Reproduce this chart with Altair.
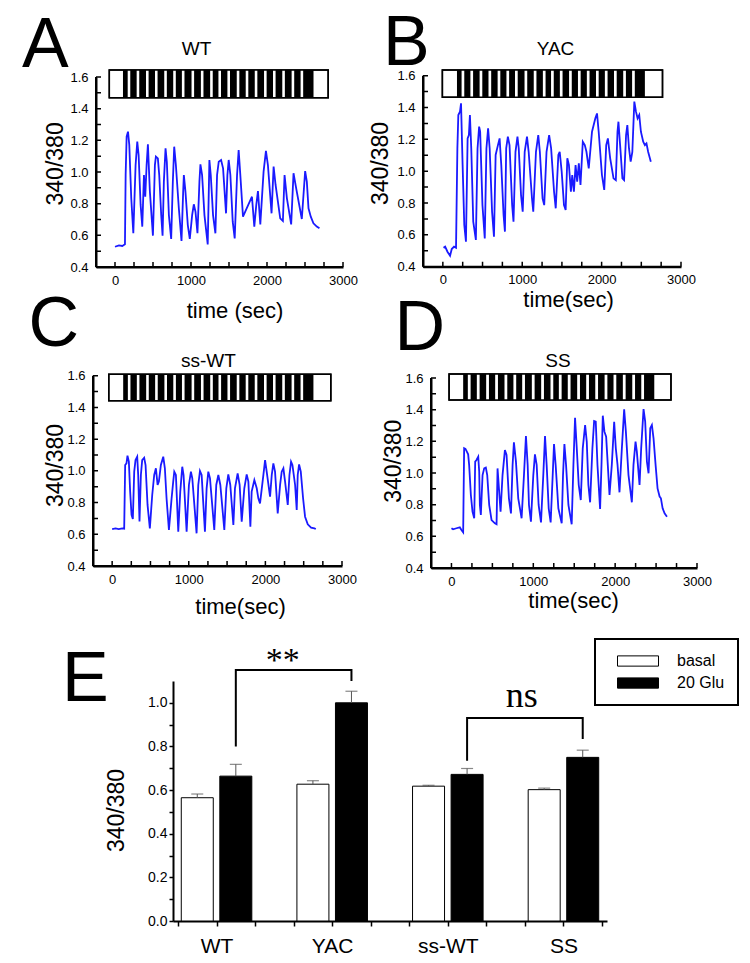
import altair as alt
import pandas as pd

FONT = "Liberation Sans"
SERIF = "Liberation Serif"
W, H = 734, 947
BLUE = "#1a1aff"

# ---------------- calcium traces (time s, 340/380 ratio) ----------------
A_t = [0, 52, 96, 131, 140, 153, 171, 188, 214, 241, 271, 293, 311, 337, 359, 381, 398, 416, 433, 459,
       499, 525, 538, 564, 582, 608, 626, 643, 665, 682, 709, 739, 761, 779, 801, 840, 875, 897, 906, 927,
       958, 984, 1015, 1037, 1059, 1085, 1111, 1124, 1146, 1177, 1220, 1234, 1242, 1260, 1290, 1321, 1343,
       1365, 1396, 1422, 1461, 1479, 1496, 1518, 1549, 1575, 1606, 1627, 1649, 1684, 1802, 1833, 1859, 1881,
       1912, 1955, 1986, 2012, 2060, 2087, 2113, 2174, 2209, 2231, 2262, 2318, 2349, 2384, 2458, 2502, 2524,
       2546, 2576, 2611, 2655, 2690]
A_v = [0.528, 0.537, 0.533, 0.543, 0.981, 1.223, 1.255, 1.171, 0.834, 0.613, 1.044, 1.192, 1.107, 0.792,
       0.655, 0.981, 0.844, 1.044, 1.175, 0.876, 0.598, 1.044, 1.097, 1.086, 0.981, 0.728, 0.598, 0.939,
       1.149, 1.065, 0.728, 0.577, 0.939, 1.160, 1.044, 0.771, 0.564, 0.876, 0.981, 0.876, 0.665, 0.577,
       0.728, 0.796, 0.749, 0.613, 0.939, 1.048, 0.981, 0.728, 0.543, 0.876, 1.076, 0.981, 0.728, 0.613,
       0.981, 1.065, 1.076, 1.023, 0.739, 0.981, 1.076, 0.981, 0.686, 0.581, 0.981, 1.139, 0.981, 0.718,
       0.844, 0.655, 0.792, 0.880, 0.669, 1.002, 1.133, 1.044, 0.739, 1.034, 0.918, 0.707, 0.691, 0.981,
       0.834, 0.669, 0.992, 0.897, 0.703, 1.006, 0.939, 0.771, 0.718, 0.676, 0.655, 0.644]

B_t = [8, 29, 58, 91, 112, 141, 166, 183, 195, 216, 229, 249, 270, 291, 312, 328, 341, 358, 383, 416,
       437, 457, 470, 499, 528, 549, 570, 590, 620, 644, 665, 694, 715, 736, 765, 782, 798, 819, 840, 873,
       890, 915, 940, 956, 985, 1006, 1031, 1060, 1081, 1123, 1139, 1173, 1202, 1222, 1256, 1277, 1306,
       1339, 1364, 1401, 1422, 1455, 1472, 1497, 1526, 1547, 1568, 1588, 1613, 1630, 1651, 1672, 1692,
       1713, 1734, 1763, 1788, 1809, 1838, 1879, 1921, 1942, 1963, 2004, 2033, 2058, 2079, 2108, 2150,
       2179, 2200, 2212, 2233, 2262, 2283, 2308, 2324, 2345, 2366, 2387, 2412, 2433, 2453, 2474, 2495,
       2524, 2545, 2565, 2586, 2620]
B_v = [0.519, 0.526, 0.494, 0.469, 0.511, 0.526, 0.519, 1.143, 1.353, 1.374, 1.426, 1.039, 0.662, 0.557,
       1.206, 1.227, 1.353, 1.143, 0.683, 0.568, 1.143, 1.280, 1.248, 0.787, 0.578, 1.143, 1.269, 1.143,
       0.746, 0.588, 1.102, 1.164, 1.206, 1.039, 0.725, 0.620, 1.143, 1.217, 1.164, 0.787, 0.683, 1.122,
       1.217, 1.143, 0.850, 0.746, 1.122, 1.217, 1.122, 0.829, 0.746, 1.122, 1.227, 1.122, 0.829, 0.787,
       1.122, 1.227, 1.143, 0.871, 0.767, 1.102, 1.122, 0.997, 0.787, 0.756, 1.081, 1.039, 0.871, 0.976,
       0.871, 1.039, 0.934, 1.049, 0.913, 1.185, 1.164, 1.122, 1.018, 1.248, 1.332, 1.363, 1.248, 0.976,
       0.882, 1.164, 1.206, 1.081, 0.955, 0.944, 1.248, 1.311, 1.164, 0.955, 0.944, 1.227, 1.290, 1.143,
       1.060, 1.122, 1.437, 1.374, 1.332, 1.353, 1.248, 1.185, 1.164, 1.175, 1.122, 1.060]

C_t = [0, 44, 87, 131, 157, 170, 187, 200, 218, 235, 253, 270, 288, 305, 327, 340, 357, 375, 392, 418,
       436, 462, 492, 523, 549, 571, 593, 610, 636, 667, 688, 710, 741, 776, 797, 811, 832, 863, 889, 915,
       932, 972, 1002, 1028, 1046, 1102, 1124, 1146, 1168, 1211, 1233, 1255, 1277, 1333, 1359, 1386, 1412,
       1464, 1490, 1516, 1542, 1582, 1603, 1638, 1664, 1691, 1725, 1756, 1778, 1804, 1821, 1856, 1887,
       1908, 1930, 1974, 1996, 2017, 2061, 2083, 2104, 2126, 2161, 2192, 2213, 2235, 2257, 2292, 2314,
       2335, 2353, 2388, 2409, 2422, 2440, 2462, 2492, 2518, 2553, 2597, 2640, 2658]
C_v = [0.633, 0.637, 0.633, 0.637, 0.635, 1.037, 1.047, 1.096, 1.058, 0.869, 0.722, 0.696, 0.995, 1.068,
       1.089, 0.974, 0.680, 0.974, 1.068, 1.083, 1.037, 0.785, 0.637, 0.848, 0.974, 1.016, 0.911, 0.932,
       1.037, 1.089, 1.016, 0.827, 0.627, 0.827, 0.932, 0.995, 0.974, 0.616, 0.869, 1.026, 0.974, 0.616,
       0.911, 0.995, 0.953, 0.606, 0.911, 0.999, 0.974, 0.616, 0.890, 0.995, 0.953, 0.627, 0.911, 0.974,
       0.911, 0.627, 0.890, 0.978, 0.911, 0.659, 0.890, 0.984, 0.911, 0.680, 0.890, 0.978, 0.932, 0.648,
       0.869, 0.942, 0.890, 0.827, 0.795, 0.974, 1.068, 0.995, 0.837, 0.974, 1.047, 0.995, 0.732, 0.911,
       0.995, 1.016, 0.932, 0.785, 0.974, 1.058, 1.037, 0.911, 0.753, 0.974, 1.041, 0.995, 0.827, 0.711,
       0.663, 0.642, 0.637, 0.633]

D_t = [0, 20, 61, 102, 122, 143, 155, 171, 188, 204, 216, 237, 257, 278, 290, 306, 327, 339, 347, 359,
       380, 400, 420, 437, 461, 490, 531, 551, 563, 580, 600, 624, 653, 673, 702, 727, 747, 763, 788, 816,
       857, 886, 910, 931, 947, 971, 1000, 1020, 1041, 1065, 1094, 1122, 1143, 1163, 1188, 1212, 1237,
       1253, 1273, 1306, 1347, 1363, 1380, 1400, 1429, 1469, 1490, 1510, 1531, 1555, 1580, 1604, 1633,
       1653, 1673, 1694, 1722, 1743, 1763, 1784, 1816, 1833, 1849, 1869, 1890, 1910, 1931, 1959, 1988,
       2008, 2029, 2053, 2082, 2110, 2131, 2163, 2204, 2224, 2249, 2265, 2298, 2318, 2347, 2367, 2388,
       2408, 2429, 2449, 2469, 2494, 2518, 2543, 2559, 2580, 2604, 2633]
D_v = [0.651, 0.644, 0.651, 0.657, 0.640, 0.625, 1.156, 1.152, 1.135, 1.118, 1.051, 0.861, 0.756, 0.714,
       1.072, 1.082, 1.103, 1.008, 0.798, 0.735, 0.987, 1.029, 1.034, 0.987, 0.798, 0.703, 0.682, 0.676,
       1.029, 0.903, 0.756, 0.987, 1.145, 1.114, 0.840, 0.745, 1.051, 1.194, 1.072, 0.840, 0.714, 0.987,
       1.234, 1.051, 0.798, 0.693, 0.987, 1.118, 1.051, 0.798, 0.688, 0.987, 1.234, 1.051, 0.777, 0.688,
       0.987, 1.183, 1.051, 0.777, 0.682, 0.987, 1.183, 1.051, 0.798, 0.676, 1.051, 1.349, 1.156, 0.924,
       0.829, 1.156, 1.303, 1.198, 0.924, 0.815, 1.156, 1.328, 1.324, 1.051, 0.773, 1.051, 1.362, 1.261,
       1.229, 1.051, 0.861, 1.051, 1.324, 1.156, 1.051, 0.878, 1.156, 1.402, 1.261, 0.987, 0.815, 1.051,
       1.198, 1.135, 0.924, 1.156, 1.404, 1.324, 1.072, 0.998, 1.282, 1.303, 1.219, 1.051, 0.903, 0.851,
       0.840, 0.777, 0.745, 0.724]

# ---------------- glutamate pulse bar (time s; ratio extent of the box) ----------------
A_BOX = [-75, 2805, 1.469, 1.644]
B_BOX = [-6, 2767, 1.464, 1.636]
C_BOX = [-44, 2854, 1.442, 1.609]
D_BOX = [-29, 2682, 1.461, 1.625]
A_PULSE = [105, 2612]
B_PULSE = [178, 2545]
C_PULSE = [144, 2627]
D_PULSE = [143, 2478]
A_GAPS = [184, 302, 425, 543, 665, 783, 897, 1024, 1147, 1269, 1378, 1496, 1619, 1737, 1856, 1978, 2096, 2218, 2341, 2459]
B_GAPS = [253, 364, 480, 592, 707, 818, 926, 1046, 1162, 1277, 1380, 1491, 1607, 1719, 1831, 1946, 2058, 2173, 2289, 2401]
C_GAPS = [222, 339, 461, 578, 699, 815, 928, 1054, 1176, 1297, 1405, 1522, 1643, 1760, 1878, 1999, 2116, 2237, 2359, 2476]
D_GAPS = [217, 327, 441, 551, 665, 774, 881, 999, 1113, 1227, 1329, 1438, 1553, 1663, 1774, 1888, 1997, 2111, 2226, 2336]
GAP_HALF = 17

# ---------------- axis ticks ----------------
X_DOMAIN = [-250, 3000]
Y_DOMAIN = [0.4, 1.6]
X_TICKS = [0, 250, 500, 750, 1000, 1250, 1500, 1750, 2000, 2250, 2500, 2750, 3000]
Y_TICKS = [0.4, 0.5, 0.6, 0.7, 0.8, 0.9, 1.0, 1.1, 1.2, 1.3, 1.4, 1.5, 1.6]
TICK_PX = 5

# ---------------- panel E data ----------------
GROUPS = ["WT", "YAC", "ss-WT", "SS"]
CONDS = ["basal", "20 Glu"]
BASAL_MEAN = [0.565, 0.627, 0.618, 0.602]
BASAL_SEM = [0.017, 0.016, 0.004, 0.007]
GLU_MEAN = [0.664, 1.000, 0.672, 0.750]
GLU_SEM = [0.054, 0.053, 0.027, 0.033]
E_Y_TICKS = [0.0, 0.1, 0.2, 0.3, 0.4, 0.5, 0.6, 0.7, 0.8, 0.9, 1.0]
BRACKET_STAR_Y = [0.80, 1.15, 1.15, 1.10]
BRACKET_NS_Y = [0.734, 0.93, 0.93, 0.834]

EVEN_TENTHS = "round(datum.value * 10) % 2 == 0 ? format(datum.value, '.1f') : ''"


def trace_panel(key, t, v, box, pulse, gaps, xr, yr, letter, letter_xy, name, name_xy,
                xtitle, xtitle_pos, ytitle_pos):
    xs = alt.Scale(domain=X_DOMAIN, range=xr, nice=False, zero=False)
    ys = alt.Scale(domain=Y_DOMAIN, range=yr, nice=False, zero=False)

    x_axis = alt.Axis(orient="bottom", offset=yr[0] - H, values=X_TICKS,
                      labelExpr="datum.value % 1000 == 0 ? format(datum.value, 'd') : ''",
                      ticks=True, tickSize=4, tickWidth=1.5, tickColor="black", tickOpacity=0,
                      grid=False, labelFlush=False, labelOverlap=False,
                      labelPadding=3, labelFont=FONT, labelFontSize=13, labelColor="black",
                      domainColor="black", domainWidth=2,
                      title=xtitle, titleFont=FONT, titleFontSize=22, titleFontWeight="normal",
                      titleColor="black", titleX=xtitle_pos[0], titleY=xtitle_pos[1],
                      titleAlign="center", titleBaseline="alphabetic")
    y_axis = alt.Axis(orient="left", offset=-xr[0], values=Y_TICKS, labelExpr=EVEN_TENTHS,
                      ticks=True, tickSize=4, tickWidth=1.5, tickColor="black", tickOpacity=0,
                      grid=False, labelFlush=False, labelOverlap=False,
                      labelPadding=4, labelFont=FONT, labelFontSize=13, labelColor="black",
                      domainColor="black", domainWidth=2,
                      title="340/380", titleFont=FONT, titleFontSize=23, titleFontWeight="normal",
                      titleColor="black", titleAngle=270, titleX=ytitle_pos[0], titleY=ytitle_pos[1],
                      titleAlign="center", titleBaseline="alphabetic")

    # every layer of a panel carries the same axis spec, so the merged axis stays enabled
    def enc(chart, xf="x", yf="y", x2=None, y2=None):
        e = dict(x=alt.X(f"{xf}:Q", scale=xs, axis=x_axis),
                 y=alt.Y(f"{yf}:Q", scale=ys, axis=y_axis))
        if x2:
            e["x2"] = alt.X2(f"{x2}:Q")
        if y2:
            e["y2"] = alt.Y2(f"{y2}:Q")
        return chart.encode(**e)

    box_df = pd.DataFrame({"x": [box[0]], "x2": [box[1]], "y": [box[2]], "y2": [box[3]]})
    pulse_df = pd.DataFrame({"x": [pulse[0]], "x2": [pulse[1]], "y": [box[2]], "y2": [box[3]]})
    gap_df = pd.DataFrame({"x": [g - GAP_HALF for g in gaps], "x2": [g + GAP_HALF for g in gaps],
                           "y": [box[2]] * len(gaps), "y2": [box[3]] * len(gaps)})

    box_fill = enc(alt.Chart(box_df).mark_rect(fill="white", stroke="black", strokeWidth=1.5),
                   x2="x2", y2="y2")
    pulse_fill = enc(alt.Chart(pulse_df).mark_rect(fill="black"), x2="x2", y2="y2")
    gap_fill = enc(alt.Chart(gap_df).mark_rect(fill="white"), x2="x2", y2="y2")
    box_line = enc(alt.Chart(box_df).mark_rect(fill="white", fillOpacity=0, stroke="black",
                                               strokeWidth=1.5), x2="x2", y2="y2")
    trace = enc(alt.Chart(pd.DataFrame({"t": t, "v": v})).mark_line(color=BLUE, strokeWidth=1.8),
                xf="t", yf="v")

    # axis lines drawn as zero-thickness stroked rectangles (same mark type as the pulse box)
    frame_df = pd.DataFrame({"panel": [key, key],
                             "x": [X_DOMAIN[0], X_DOMAIN[0]], "x2": [X_DOMAIN[1], X_DOMAIN[0]],
                             "y": [Y_DOMAIN[0], Y_DOMAIN[0]], "y2": [Y_DOMAIN[0], Y_DOMAIN[1]]})
    frame_rect = enc(alt.Chart(frame_df).mark_rect(fill="black", stroke="black", strokeWidth=2),
                     x2="x2", y2="y2")

    # inward ticks, also as stroked zero-width rectangles (length TICK_PX pixels)
    dv = TICK_PX * (Y_DOMAIN[1] - Y_DOMAIN[0]) / abs(yr[0] - yr[1])
    dt = TICK_PX * (X_DOMAIN[1] - X_DOMAIN[0]) / abs(xr[1] - xr[0])
    tk = []
    for xv in X_TICKS:
        tk.append({"x": xv, "x2": xv, "y": Y_DOMAIN[0], "y2": Y_DOMAIN[0] + dv})
    for yv in Y_TICKS:
        tk.append({"x": X_DOMAIN[0], "x2": X_DOMAIN[0] + dt, "y": yv, "y2": yv})
    tick_df = pd.DataFrame(tk)
    tick_df["panel"] = key
    tick_rect = enc(alt.Chart(tick_df).mark_rect(fill="black", stroke="black", strokeWidth=1.5),
                    x2="x2", y2="y2")

    let_df = pd.DataFrame({"x": [letter_xy[0]], "y": [letter_xy[1]], "txt": [letter]})
    let_txt = enc(alt.Chart(let_df).mark_text(font=FONT, fontSize=70, align="left",
                                              baseline="alphabetic", color="black")).encode(text="txt:N")
    name_df = pd.DataFrame({"x": [name_xy[0]], "y": [name_xy[1]], "txt": [name]})
    name_txt = enc(alt.Chart(name_df).mark_text(font=FONT, fontSize=19, align="center",
                                                baseline="alphabetic", color="black")).encode(text="txt:N")

    return alt.layer(box_fill, pulse_fill, gap_fill, box_line, frame_rect, tick_rect, trace,
                     let_txt, name_txt)


pA = trace_panel("A", A_t, A_v, A_BOX, A_PULSE, A_GAPS, [88, 335], [259, 69],
                 "A", (-1224, 1.663), "WT", (1072, 1.739), "time (sec)", (226.5, 50), (-34, 155.4))
pB = trace_panel("B", B_t, B_v, B_BOX, B_PULSE, B_GAPS, [415, 673], [258.7, 67.7],
                 "B", (-754, 1.667), "YAC", (1419, 1.730), "time(sec)", (560, 40), (-36, 155))
pC = trace_panel("C", C_t, C_v, C_BOX, C_PULSE, C_GAPS, [85, 334], [558, 367.7],
                 "C", (-1092, 1.787), "ss-WT", (1257, 1.655), "time(sec)", (232, 47), (-31, 457))
pD = trace_panel("D", D_t, D_v, D_BOX, D_PULSE, D_GAPS, [423, 689], [560, 370],
                 "D", (-696, 1.777), "SS", (1302, 1.669), "time(sec)", (565, 39), (-31, 452.7))

# ---------------- panel E ----------------
E_XR = [165, 599]
E_YR = [913, 673]
n_slots = 3 * len(GROUPS) - 1
exs = alt.Scale(domain=[0, n_slots], range=E_XR, nice=False, zero=False)
eys = alt.Scale(domain=[0, 1.1], range=E_YR, nice=False, zero=False)

rows = []
for i, g in enumerate(GROUPS):
    rows.append({"slot": 3 * i + 0.5, "cond": CONDS[0], "mean": BASAL_MEAN[i],
                 "top": BASAL_MEAN[i] + BASAL_SEM[i]})
    rows.append({"slot": 3 * i + 1.5, "cond": CONDS[1], "mean": GLU_MEAN[i],
                 "top": GLU_MEAN[i] + GLU_SEM[i]})
bars_df = pd.DataFrame(rows)

label_expr = "".join(f"datum.value == {3 * i + 1} ? '{g}' : " for i, g in enumerate(GROUPS)) + "''"
ex_axis = alt.Axis(orient="bottom", offset=E_YR[0] - H, values=list(range(n_slots + 1)),
                   labelExpr=label_expr, ticks=True, tickSize=5, tickWidth=1.5, tickColor="black",
                   grid=False, labelFlush=False, labelOverlap=False, labelPadding=9,
                   labelFont=FONT, labelFontSize=21, labelColor="black",
                   domainColor="black", domainWidth=2, title=None)
ey_axis = alt.Axis(orient="left", offset=-E_XR[0], values=E_Y_TICKS, labelExpr=EVEN_TENTHS,
                   ticks=True, tickSize=4, tickWidth=1.5, tickColor="black",
                   grid=False, labelFlush=False, labelOverlap=False, labelPadding=2,
                   labelFont=FONT, labelFontSize=14, labelColor="black",
                   domainColor="black", domainWidth=2,
                   title="340/380", titleFont=FONT, titleFontSize=23, titleFontWeight="normal",
                   titleColor="black", titleAngle=270, titleX=-50, titleY=802,
                   titleAlign="center", titleBaseline="alphabetic")


def ex(field):
    return alt.X(f"{field}:Q", scale=exs, axis=ex_axis)


def ey(field):
    return alt.Y(f"{field}:Q", scale=eys, axis=ey_axis)


bars = alt.Chart(bars_df).mark_bar(size=32, orient="vertical", stroke="black", strokeWidth=1).encode(
    x=ex("slot"),
    y=ey("mean"),
    color=alt.Color("cond:N", scale=alt.Scale(domain=CONDS, range=["white", "black"]),
                    legend=alt.Legend(title=None, orient="none", legendX=587, legendY=631,
                                      symbolType="M-1,-0.25H1V0.25H-1Z", symbolSize=1681,
                                      symbolStrokeColor="black", symbolStrokeWidth=1,
                                      symbolOffset=9, labelOffset=18,
                                      labelFont=FONT, labelFontSize=16, labelColor="black",
                                      clipHeight=18, rowPadding=4, padding=13,
                                      strokeColor="black", fillColor="white")),
)
err = alt.Chart(bars_df).mark_rule(color="#555555", strokeWidth=1).encode(
    x=ex("slot"), y=ey("mean"), y2="top:Q",
)
caps = alt.Chart(bars_df).mark_tick(orient="horizontal", size=12, thickness=1.2, color="#555555").encode(
    x=ex("slot"), y=ey("top"),
)

br_rows = []
for name, (a, b), ys_ in [("star", (0, 1), BRACKET_STAR_Y), ("ns", (2, 3), BRACKET_NS_Y)]:
    xa = 3 * a + 1.5
    xb = 3 * b + 1.5
    for k, (xx, yy) in enumerate(zip([xa, xa, xb, xb], ys_)):
        br_rows.append({"br": name, "k": k, "slot": xx, "val": yy})
brackets = alt.Chart(pd.DataFrame(br_rows)).mark_line(color="black", strokeWidth=2).encode(
    x=ex("slot"), y=ey("val"), detail="br:N", order="k:Q",
)

ann_df = pd.DataFrame({"slot": [2.72, 8.92], "val": [1.148, 0.98], "txt": ["**", "ns"],
                       "size": [34, 36]})
ann = alt.Chart(ann_df).mark_text(font=SERIF, align="center", baseline="alphabetic",
                                  color="black").encode(
    x=ex("slot"), y=ey("val"), text="txt:N",
    size=alt.Size("size:Q", scale=None, legend=None),
)
e_letter = alt.Chart(pd.DataFrame({"slot": [-3.01], "val": [1.008], "txt": ["E"]})).mark_text(
    font=FONT, fontSize=70, align="left", baseline="alphabetic", color="black").encode(
    x=ex("slot"), y=ey("val"), text="txt:N",
)

pE = alt.layer(bars, err, caps, brackets, ann, e_letter)

chart = alt.layer(pA, pB, pC, pD, pE).resolve_scale(
    x="independent", y="independent"
).properties(
    width=W, height=H, padding=0, autosize=alt.AutoSizeParams(type="none"), background="white",
    view=alt.ViewBackground(stroke="white", strokeOpacity=0),
)

try:
    test = chart.configure_legend(strokeWidth=2)
    test.to_dict()
    chart = test
except Exception:
    pass

chart.save("out.html", embed_options={"renderer": "svg", "actions": False})
